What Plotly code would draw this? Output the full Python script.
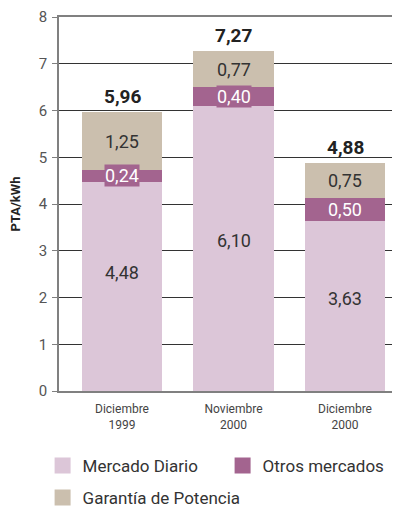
import plotly.graph_objects as go

categories = ["Diciembre<br>1999", "Noviembre<br>2000", "Diciembre<br>2000"]
mercado_diario = [4.48, 6.10, 3.63]
otros_mercados = [0.24, 0.40, 0.50]
garantia = [1.25, 0.77, 0.75]
totals = [5.96, 7.27, 4.88]
series_names = ["Mercado Diario", "Otros mercados", "Garantía de Potencia"]
y_ticks = [0, 1, 2, 3, 4, 5, 6, 7, 8]

colors = ["#dcc6d8", "#a3648f", "#cbbfae"]
legend_ids = ["legend", "legend", "legend2"]
base_label_shift = [14, 8, 8]
FONT = "Roboto, Liberation Sans, sans-serif"

def fmt(v):
    return f"{v:.2f}".replace(".", ",")

xpos = list(range(len(categories)))
fig = go.Figure()
series = [mercado_diario, otros_mercados, garantia]
for name, vals, col, lg in zip(series_names, series, colors, legend_ids):
    fig.add_trace(go.Bar(x=xpos, y=vals, name=name, marker_color=col,
                         marker_line_width=0, width=0.726, showlegend=False,
                         hoverinfo="skip"))
    fig.add_trace(go.Scatter(x=[None], y=[None], mode="markers", name=name,
                             marker=dict(symbol="square", size=17, color=col),
                             showlegend=True, legend=lg))

annotations = []
for i in xpos:
    base = 0
    for k, vals in enumerate(series):
        v = vals[i]
        mid = base + v / 2
        if k == 0:
            annotations.append(dict(x=i, y=mid, text=fmt(v), showarrow=False,
                                    yshift=base_label_shift[i],
                                    font=dict(family=FONT, size=18, color="#333333")))
        elif k == 1:
            annotations.append(dict(x=i, y=mid, text=fmt(v), showarrow=False,
                                    bgcolor=colors[1], borderpad=0,
                                    font=dict(family=FONT, size=18, color="#ffffff")))
        else:
            annotations.append(dict(x=i, y=mid, text=fmt(v), showarrow=False,
                                    font=dict(family=FONT, size=18, color="#333333")))
        base += v
    annotations.append(dict(x=i, y=totals[i], text="<b>" + fmt(totals[i]) + "</b>",
                            showarrow=False, yanchor="bottom", yshift=2,
                            font=dict(family=FONT, size=19, color="#222222")))

legend_common = dict(orientation="h", xanchor="left", yanchor="top",
                     font=dict(family=FONT, size=17, color="#333333"),
                     itemwidth=30, traceorder="normal", bgcolor="rgba(0,0,0,0)")

fig.update_layout(
    width=400, height=507,
    margin=dict(l=51, r=0, t=9, b=124, autoexpand=False),
    plot_bgcolor="white", paper_bgcolor="white",
    barmode="stack",
    font=dict(family=FONT, color="#444444"),
    annotations=annotations,
    xaxis=dict(range=[-0.565, 2.565], tickvals=xpos, ticktext=categories,
               showgrid=False, zeroline=False, showline=True, mirror=True,
               linecolor="#808080", linewidth=1.5, ticks="outside", ticklen=6,
               tickcolor="rgba(0,0,0,0)",
               tickfont=dict(family=FONT, size=12, color="#444444")),
    yaxis=dict(range=[0, 8], tickvals=y_ticks, showgrid=True, gridcolor="#333333",
               gridwidth=1, zeroline=False, showline=True, linecolor="#808080",
               linewidth=1.5, ticks="outside", ticklen=5, tickcolor="#808080",
               ticklabelstandoff=2,
               tickfont=dict(family=FONT, size=15, color="#555555"),
               title=dict(text="<b>PTA/kWh</b>", standoff=18,
                          font=dict(family=FONT, size=13, color="#222222"))),
    legend=dict(x=-0.047, y=-0.152, entrywidth=135, **legend_common),
    legend2=dict(x=-0.047, y=-0.238, **legend_common),
)

fig.write_html("out.html")
